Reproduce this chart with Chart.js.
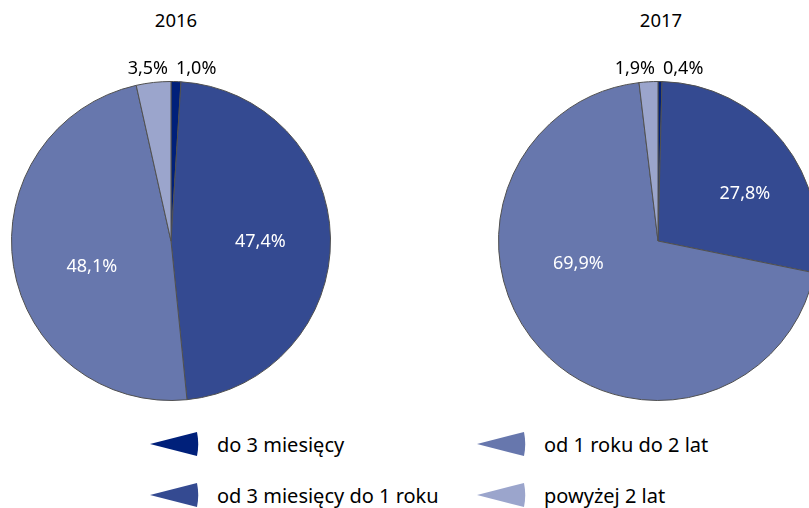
<!DOCTYPE html>
<html><head><meta charset="utf-8">
<script src="https://cdn.jsdelivr.net/npm/chart.js@4.4.1/dist/chart.umd.min.js"></script>
<style>
html,body{margin:0;padding:0;background:#fff;}
body{width:809px;height:508px;overflow:hidden;position:relative;font-family:"Noto Sans",sans-serif;}
.box{position:absolute;top:0;width:342px;height:410px;}
.title{position:absolute;top:7px;width:120px;text-align:center;font-size:18.5px;color:#000;}
.leg{position:absolute;font-size:20px;color:#000;display:flex;align-items:center;white-space:nowrap;}
.leg svg{margin-right:17px;}
</style></head><body>
<div class="title" id="t1"></div>
<div class="title" id="t2"></div>
<div class="box" style="left:0"><canvas id="c1"></canvas></div>
<div class="box" style="left:487px"><canvas id="c2"></canvas></div>
<div id="legend"></div>
<script>
const years = ["2016", "2017"];
const categories = ["do 3 miesięcy", "od 3 miesięcy do 1 roku", "od 1 roku do 2 lat", "powyżej 2 lat"];
const values2016 = [1.0, 47.4, 48.1, 3.5];
const values2017 = [0.4, 27.8, 69.9, 1.9];
const colors = ["#00207a", "#344a91", "#6777ad", "#9ba5cc"];

// label nudges (styling only)
const nudges = {
  c1: [[0,0],[0,3],[9,12],[0,0]],
  c2: [[0,0],[17,9],[-14,-38],[0,0]]
};

const fmt = v => v.toFixed(1).replace('.', ',') + '%';

const labelPlugin = {
  id: 'pieLabels',
  afterDatasetsDraw(chart) {
    const ctx = chart.ctx;
    const meta = chart.getDatasetMeta(0);
    const data = chart.data.datasets[0].data;
    const nd = nudges[chart.canvas.id];
    ctx.save();
    ctx.font = '18px "Noto Sans"';
    ctx.textBaseline = 'middle';
    meta.data.forEach((arc, i) => {
      const p = arc.getProps(['x','y','startAngle','endAngle','outerRadius'], true);
      const mid = (p.startAngle + p.endAngle) / 2;
      const v = data[i];
      if (v < 5) {
        ctx.fillStyle = '#000';
        const y = p.y - p.outerRadius - 13;
        if (Math.cos(mid) >= 0) { ctx.textAlign = 'left'; ctx.fillText(fmt(v), p.x + 5, y); }
        else { ctx.textAlign = 'right'; ctx.fillText(fmt(v), p.x - 3, y); }
      } else {
        ctx.fillStyle = '#fff';
        ctx.textAlign = 'center';
        const rr = p.outerRadius * 0.56;
        ctx.fillText(fmt(v), p.x + Math.cos(mid) * rr + nd[i][0], p.y + Math.sin(mid) * rr + nd[i][1]);
      }
    });
    ctx.restore();
  }
};

function makePie(id, values) {
  return new Chart(document.getElementById(id), {
    type: 'pie',
    data: { labels: categories, datasets: [{ data: values, backgroundColor: colors, borderColor: '#505050', borderWidth: 1, hoverOffset: 0 }] },
    options: {
      responsive: true, maintainAspectRatio: false, animation: false,
      layout: { padding: { top: 81, left: 11, right: 11, bottom: 9 } },
      plugins: { legend: { display: false }, tooltip: { enabled: false } },
      events: []
    },
    plugins: [labelPlugin]
  });
}
makePie('c1', values2016);
makePie('c2', values2017);

const t1 = document.getElementById('t1'); t1.textContent = years[0]; t1.style.left = (176 - 60) + 'px';
const t2 = document.getElementById('t2'); t2.textContent = years[1]; t2.style.left = (661 - 60) + 'px';

const legPos = [[150, 444], [150, 495], [477, 444], [477, 495]];
const legend = document.getElementById('legend');
categories.forEach((c, i) => {
  const d = document.createElement('div');
  d.className = 'leg';
  d.style.left = legPos[i][0] + 'px';
  d.style.top = (legPos[i][1] - 13) + 'px';
  d.style.height = '26px';
  d.innerHTML = '<svg width="50" height="26" viewBox="0 0 50 26"><path d="M0 13 L47 1 A60 60 0 0 1 47 25 Z" fill="' + colors[i] + '"/></svg>';
  const s = document.createElement('span'); s.textContent = c; d.appendChild(s);
  legend.appendChild(d);
});
</script>
</body></html>
